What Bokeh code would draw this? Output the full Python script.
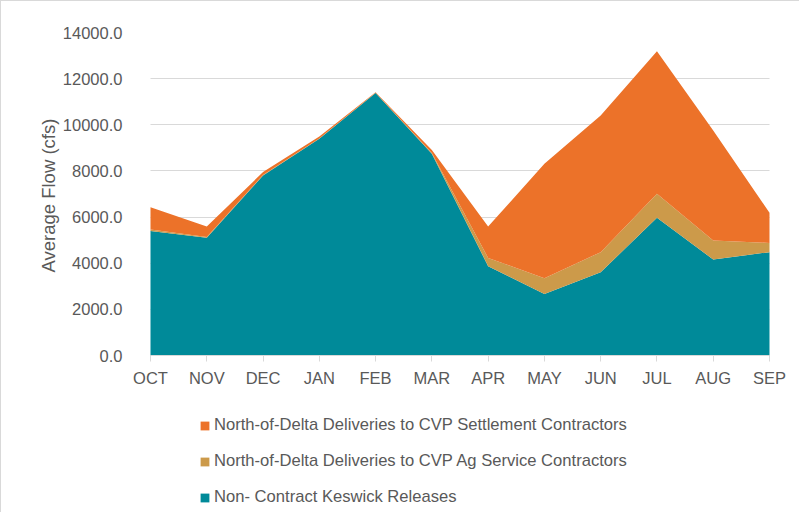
from bokeh.plotting import figure
from bokeh.models import (ColumnDataSource, FixedTicker, Range1d, Legend, LegendItem,
                          InlineStyleSheet, Title)
from bokeh.embed import file_html
from bokeh.resources import INLINE

months = ["OCT", "NOV", "DEC", "JAN", "FEB", "MAR", "APR", "MAY", "JUN", "JUL", "AUG", "SEP"]
keswick = [5400, 5100, 7800, 9400, 11380, 8750, 3870, 2670, 3610, 5970, 4160, 4480]
ag_service = [60, 40, 20, 10, 5, 30, 360, 680, 870, 1040, 820, 400]
settlement = [970, 450, 130, 80, 20, 130, 1360, 4960, 5920, 6180, 4770, 1310]
y_ticks = [0, 2000, 4000, 6000, 8000, 10000, 12000, 14000]

names = ["Non- Contract Keswick Releases",
         "North-of-Delta Deliveries to CVP Ag Service Contractors",
         "North-of-Delta Deliveries to CVP Settlement Contractors"]
colors = ["#008A99", "#CC9A4A", "#EC7229"]

src = ColumnDataSource(dict(x=list(range(len(months))), keswick=keswick,
                            ag=ag_service, settle=settlement))

TEXT = "#595959"
FONT = "Liberation Sans"

# frame spans from the 14000 gridline down to the bottom so the legend fits inside it
p = figure(width=799, height=512, output_backend="svg", toolbar_location=None,
           x_range=Range1d(-0.3554, 11.3554), y_range=Range1d(-6848, 14000),
           x_axis_location="above",
           min_border_left=129, min_border_right=11, min_border_top=31,
           min_border_bottom=0)
p.stylesheets = [InlineStyleSheet(css=":host { border-top: 1px solid #d9d9d9; border-left: 1px solid #d9d9d9; }")]
p.outline_line_color = None
p.background_fill_color = "white"

rs = p.varea_stack(["keswick", "ag", "settle"], x="x", source=src, color=colors)

p.xgrid.grid_line_color = None
yg = p.ygrid[0]
yg.grid_line_color = "#D9D9D9"
yg.grid_line_width = 1
yg.ticker = FixedTicker(ticks=y_ticks)
if "cross_bounds" in yg.properties():
    yg.cross_bounds = (0, len(months) - 1)

p.yaxis.ticker = FixedTicker(ticks=y_ticks)
p.yaxis.major_label_overrides = {t: f"{t:.1f}" for t in y_ticks}
p.yaxis.axis_line_color = None
p.yaxis.major_tick_line_color = None
p.yaxis.minor_tick_line_color = None
p.yaxis.major_label_standoff = 2
p.yaxis.major_label_text_font = FONT
p.yaxis.major_label_text_font_size = "16.5px"
p.yaxis.major_label_text_color = TEXT

ylabel = Title(text="Average Flow (cfs)", align="left", offset=241,
               text_font=FONT, text_font_size="18.5px", text_font_style="normal",
               text_color=TEXT, standoff=1)
p.add_layout(ylabel, "left")

xa = p.xaxis[0]
xa.fixed_location = 0
xa.bounds = (0, len(months) - 1)
xa.ticker = FixedTicker(ticks=list(range(len(months))))
xa.major_label_overrides = {i: m for i, m in enumerate(months)}
xa.axis_line_color = "#D9D9D9"
xa.major_tick_line_color = "#D9D9D9"
xa.major_tick_in = 6
xa.major_tick_out = 0
xa.minor_tick_line_color = None
xa.major_label_standoff = -31
xa.major_label_text_font = FONT
xa.major_label_text_font_size = "16.5px"
xa.major_label_text_color = TEXT

legend = Legend(items=[LegendItem(label=names[2], renderers=[rs[2]]),
                       LegendItem(label=names[1], renderers=[rs[1]]),
                       LegendItem(label=names[0], renderers=[rs[0]])],
                location=(69, 6), orientation="vertical")
legend.border_line_color = None
legend.background_fill_alpha = 0
legend.padding = 0
legend.margin = 0
legend.spacing = 16
legend.label_height = 20
legend.glyph_height = 11
legend.glyph_width = 11
legend.label_standoff = 4
legend.label_text_font = FONT
legend.label_text_font_size = "16.6px"
legend.label_text_color = TEXT
p.add_layout(legend, "center")

open("out.html", "w").write(file_html(p, INLINE))
